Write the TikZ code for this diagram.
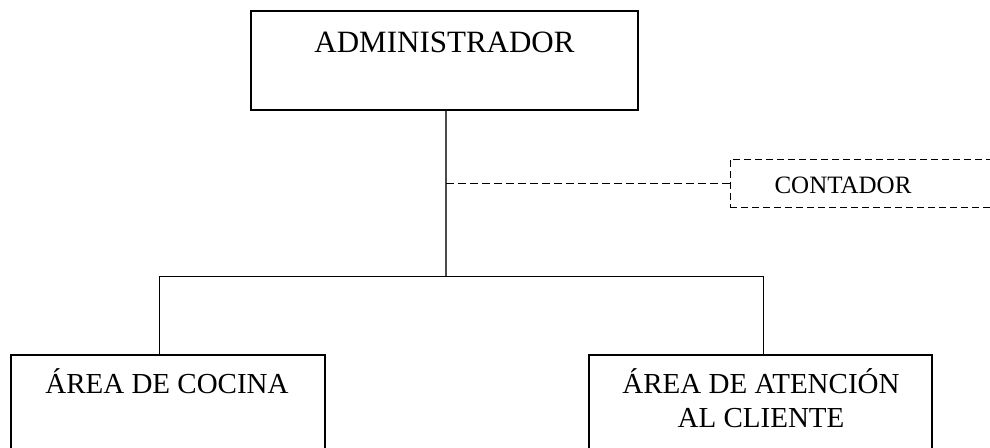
\documentclass[tikz,border=0pt]{standalone}
\usepackage{fontspec}
\setmainfont{Liberation Serif}
\begin{document}
\begin{tikzpicture}[x=1pt,y=-1pt,
  box/.style={draw=black,line width=1.3pt,rectangle,inner sep=0pt},
  dbox/.style={draw=black,line width=1pt,rectangle,inner sep=0pt,dash pattern=on 7pt off 4pt},
  conn/.style={draw=black,line width=0.9pt},
  trunk/.style={draw=black!70,line width=1.6pt},
  dconn/.style={draw=black,line width=0.9pt,dash pattern=on 8pt off 4pt},
  lbl/.style={inner sep=0pt,anchor=base,align=center}]
\useasboundingbox (0,0) rectangle (990,447);
\clip (0,0) rectangle (990,447);
% boxes
\node[box,minimum width=387pt,minimum height=99pt] (admin) at (444.5,60.5) {};
\node[lbl,font=\fontsize{31}{34}\selectfont] (admint) at (444.5,52) {ADMINISTRADOR};
\node[dbox,minimum width=300pt,minimum height=48pt] (cont) at (880,183) {};
\node[lbl,font=\fontsize{25}{28}\selectfont] (contt) at (843,193) {CONTADOR};
\node[box,minimum width=314pt,minimum height=130pt] (coc) at (168,420) {};
\node[lbl,font=\fontsize{29}{34}\selectfont] (coct) at (167,393) {ÁREA DE COCINA};
\node[box,minimum width=343pt,minimum height=130pt] (ate) at (760.5,420) {};
\node[lbl,font=\fontsize{29}{34}\selectfont] (atet1) at (761,393) {ÁREA DE ATENCIÓN};
\node[lbl,font=\fontsize{29}{34}\selectfont] (atet2) at (761,427) {AL CLIENTE};
% junctions
\coordinate (j) at (446,276);
\coordinate (l) at (159,276);
\coordinate (r) at (763,276);
\coordinate (d) at (446,183);
% connectors
\draw[trunk] (admin.south -| j) -- (j);
\draw[dconn] (d) -- (cont.west);
\draw[conn] (l) -- (r);
\draw[conn] (l) -- (coc.north -| l);
\draw[conn] (r) -- (ate.north -| r);
\end{tikzpicture}
\end{document}
